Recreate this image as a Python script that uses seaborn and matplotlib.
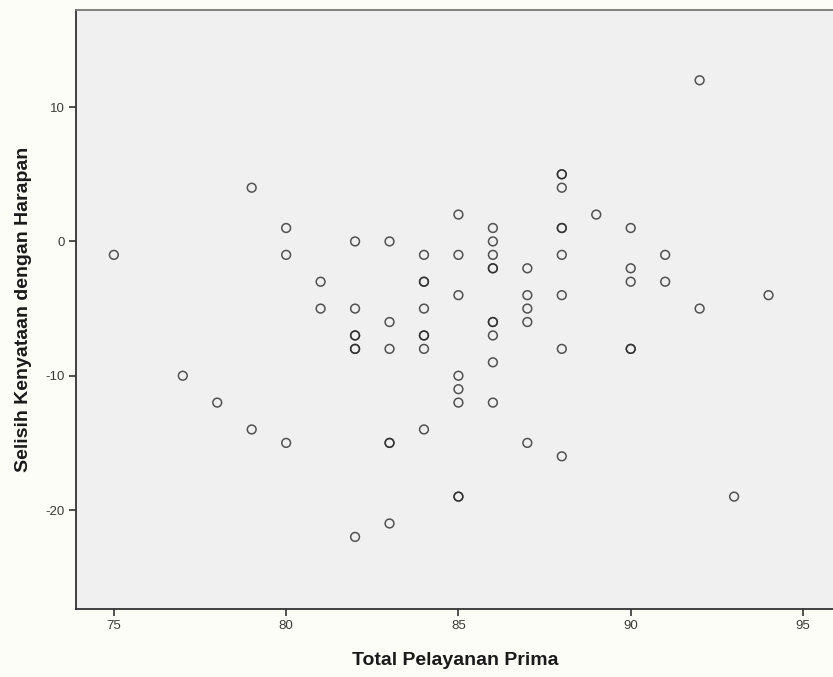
import pandas as pd
import matplotlib
matplotlib.use("Agg")
import matplotlib.pyplot as plt
import seaborn as sns

# Total Pelayanan Prima vs Selisih Kenyataan dengan Harapan
total_pelayanan = [
    75, 77, 78, 79, 79, 80, 80, 80, 81, 81,
    82, 82, 82, 82, 82, 82, 82,
    83, 83, 83, 83, 83, 83,
    84, 84, 84, 84, 84, 84, 84, 84,
    85, 85, 85, 85, 85, 85, 85, 85,
    86, 86, 86, 86, 86, 86, 86, 86, 86, 86,
    87, 87, 87, 87, 87,
    88, 88, 88, 88, 88, 88, 88, 88, 88,
    89, 90, 90, 90, 90, 90, 91, 91, 92, 92, 93, 94,
]
selisih = [
    -1, -10, -12, 4, -14, 1, -1, -15, -3, -5,
    0, -5, -7, -7, -8, -8, -22,
    0, -6, -8, -15, -15, -21,
    -1, -3, -3, -5, -7, -7, -8, -14,
    2, -1, -4, -10, -11, -12, -19, -19,
    1, 0, -1, -2, -2, -6, -6, -7, -9, -12,
    -2, -4, -5, -6, -15,
    5, 5, 4, 1, 1, -1, -4, -8, -16,
    2, 1, -2, -3, -8, -8, -1, -3, 12, -5, -19, -4,
]

df = pd.DataFrame({"Total Pelayanan Prima": total_pelayanan,
                   "Selisih Kenyataan dengan Harapan": selisih})

sns.set_style("white")
plt.rcParams["font.family"] = ["Liberation Sans", "DejaVu Sans"]
plt.rcParams["axes.unicode_minus"] = False

fig = plt.figure(figsize=(8.33, 6.77), dpi=100)
fig.patch.set_facecolor("#fdfdf8")
ax = fig.add_axes([0.0912, 0.1004, 0.91, 0.8846])
ax.set_facecolor("#f0f0f0")

sns.scatterplot(data=df, x="Total Pelayanan Prima", y="Selisih Kenyataan dengan Harapan",
                ax=ax, marker="o", s=40, facecolor="none", edgecolor="#2a2a2a",
                linewidth=1.1, alpha=0.8)

ax.set_xlim(73.9, 95.9)
ax.set_ylim(-27.37, 17.22)
ax.set_xticks([75, 80, 85, 90, 95])
ax.set_yticks([-20, -10, 0, 10])

for side in ["left", "bottom"]:
    ax.spines[side].set_color("#333333")
    ax.spines[side].set_linewidth(1.3)
for side in ["top", "right"]:
    ax.spines[side].set_color("#777777")
    ax.spines[side].set_linewidth(1.3)

ax.tick_params(axis="both", direction="out", length=5, width=1.2, color="#333333",
               labelsize=9.5, labelcolor="#3a3a3a", pad=3)
ax.tick_params(axis="x", bottom=True)
ax.tick_params(axis="y", left=True)

ax.set_xlabel("Total Pelayanan Prima", fontsize=14, fontweight="bold",
              color="#1a1a1a", labelpad=14)
ax.set_ylabel("Selisih Kenyataan dengan Harapan", fontsize=14, fontweight="bold",
              color="#1a1a1a", labelpad=10)

fig.savefig("out.png", dpi=100, facecolor=fig.get_facecolor())
